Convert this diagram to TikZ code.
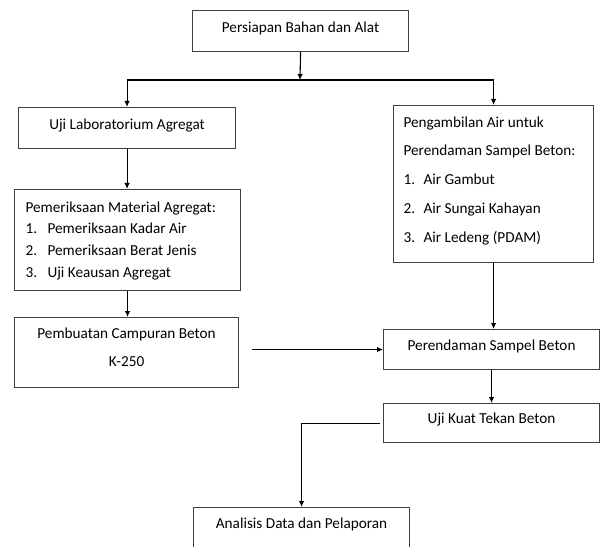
\documentclass[tikz,border=0pt]{standalone}
\usepackage{fontspec}
\setmainfont{Carlito}
\usetikzlibrary{arrows.meta}

\newcommand{\numline}[3]{\makebox[#1][l]{#2}#3}

\begin{document}
\begin{tikzpicture}[x=1bp, y=-1bp,
    box/.style={draw=black!75, line width=1.1bp, inner sep=0pt, anchor=north west,
      text height=11bp, font=\fontsize{15.3}{18}\selectfont},
    flow/.style={line width=1.1bp, -{Latex[length=6bp,width=5.5bp]}}]
  \useasboundingbox (0,0) rectangle (601,547);
  % Boxes:
  \node[box, minimum width=216bp, minimum height=41bp, text depth=9bp] (prep) at (192,10) {Persiapan Bahan dan Alat};
  \node[box, minimum width=217bp, minimum height=41bp, text depth=9bp] (lab) at (18,107) {Uji Laboratorium Agregat};
  \node[box, minimum width=200bp, minimum height=157bp, text width=180bp, align=flush left, text depth=125bp,
    font=\fontsize{15.3}{29}\selectfont] (water) at (393,105)
    {Pengambilan Air untuk\\
     Perendaman Sampel Beton:\\
     \numline{20bp}{1.}{Air Gambut}\\
     \numline{20bp}{2.}{Air Sungai Kahayan}\\
     \numline{20bp}{3.}{Air Ledeng (PDAM)}};
  \node[box, minimum width=226bp, minimum height=101bp, text width=204bp, align=flush left, text depth=67bp,
    font=\fontsize{15.3}{22}\selectfont] (check) at (14,189)
    {Pemeriksaan Material Agregat:\\
     \numline{22bp}{1.}{Pemeriksaan Kadar Air}\\
     \numline{22bp}{2.}{Pemeriksaan Berat Jenis}\\
     \numline{22bp}{3.}{Uji Keausan Agregat}};
  \node[box, minimum width=224bp, minimum height=70bp, text width=224bp, align=flush center, text depth=40bp,
    font=\fontsize{15.3}{29}\selectfont] (mix) at (14,317)
    {Pembuatan Campuran Beton\\ K-250};
  \node[box, minimum width=216bp, minimum height=40bp, text depth=9bp] (soak) at (383,329) {Perendaman Sampel Beton};
  \node[box, minimum width=216bp, minimum height=39bp, text depth=10bp] (test) at (383,403) {Uji Kuat Tekan Beton};
  \node[box, minimum width=216bp, minimum height=43bp, text depth=13bp] (report) at (193,507) {Analisis Data dan Pelaporan};
  % Connectors:
  \coordinate (split) at (300,80);
  \draw[flow] (prep.south) -- (split);
  \draw[flow] (split) -| (lab.north);
  \draw[flow] (split) -| (water.north);
  \draw[flow] (lab.south) -- (lab.south |- check.north);
  \draw[flow] (check.south) -- (check.south |- mix.north);
  \coordinate (mixout) at (252,349);
  \draw[flow] (mixout |- soak.west) -- (soak.west);
  \draw[flow] (water.south) -- (water.south |- soak.north);
  \draw[flow] (soak.south) -- (test.north);
  \coordinate (testout) at ([xshift=-3bp]test.west);
  \draw[flow] (testout) -| (report.north);
\end{tikzpicture}
\end{document}
